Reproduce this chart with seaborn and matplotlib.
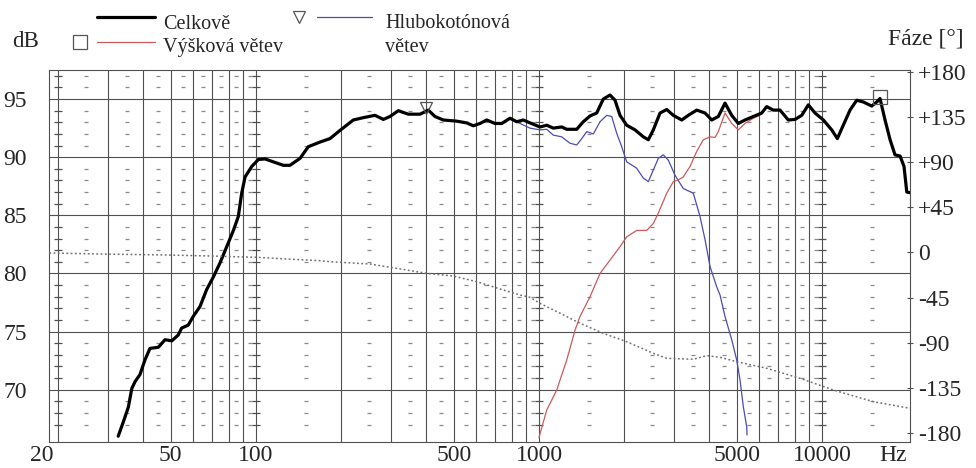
import matplotlib
matplotlib.use("Agg")
import matplotlib.pyplot as plt
from matplotlib.lines import Line2D
from matplotlib.ticker import NullLocator
import numpy as np
import pandas as pd
import seaborn as sns

# ---------------- data ----------------
black_freq = [32.6, 34.0, 35.4, 36.4, 37.4, 38.9, 40.5, 42.2, 45.2, 47.7,
              50.4, 53.1, 54.6, 57.6, 60.0, 63.4, 66.9, 70.7, 74.6, 78.8,
              83.2, 86.6, 89.0, 91.5, 96.6, 101.9, 107.6, 115.1, 124.9, 131.8,
              143.1, 153, 168.3, 182.6, 198, 220.7, 239.4, 263.3, 281.8, 297.5,
              318.3, 345.3, 379.8, 406.3, 429, 459, 511.9, 555.4, 586, 618.6,
              653.3, 699.1, 738.3, 789.8, 834.1, 880, 929.4, 1008, 1065, 1123,
              1203, 1253, 1359, 1434, 1515, 1599, 1687, 1782, 1856, 1933,
              2041, 2184, 2337, 2434, 2535, 2677, 2827, 2983, 3193, 3370,
              3608, 3861, 4076, 4301, 4542, 4797, 5061, 5345, 5718, 6122,
              6376, 6729, 7106, 7602, 8029, 8479, 8945, 9447, 10110, 10820,
              11330, 11890, 12560, 13260, 13990, 14980, 15610, 16030, 16700, 17400,
              18110, 18870, 19490, 19930, 20460]
black_db = [66.0, 67.25, 68.5, 70.1, 70.7, 71.3, 72.55, 73.55, 73.65, 74.3,
            74.2, 74.7, 75.3, 75.55, 76.3, 77.15, 78.6, 79.7, 80.9, 82.3,
            83.7, 84.9, 86.9, 88.3, 89.2, 89.8, 89.85, 89.6, 89.3, 89.3,
            89.9, 90.9, 91.3, 91.6, 92.3, 93.2, 93.4, 93.6, 93.25, 93.5,
            94.0, 93.7, 93.7, 94.05, 93.5, 93.2, 93.1, 92.95, 92.7, 92.9,
            93.2, 92.9, 92.9, 93.35, 93.05, 93.2, 92.95, 92.6, 92.75, 92.5,
            92.6, 92.4, 92.4, 93.05, 93.55, 93.8, 95.0, 95.35, 94.9, 93.6,
            92.75, 92.35, 91.75, 91.5, 92.35, 93.8, 94.1, 93.6, 93.2, 93.6,
            94.05, 93.8, 93.2, 93.5, 94.65, 93.6, 92.9, 93.2, 93.5, 93.8,
            94.35, 94.05, 94.05, 93.2, 93.25, 93.6, 94.5, 93.8, 93.2, 92.35,
            91.6, 92.75, 94.05, 94.9, 94.75, 94.4, 94.75, 95.05, 93.2, 91.5,
            90.2, 90.1, 89.2, 87.0, 86.95]

tweeter_freq = [1000, 1065, 1155, 1253, 1341, 1396, 1515, 1643, 1782, 1933,
                2041, 2214, 2402, 2535, 2640, 2827, 2983, 3106, 3235, 3417,
                3608, 3808, 4020, 4187, 4301, 4542, 4797, 5061, 5345, 5718,
                6038]
tweeter_db = [65.9, 68.25, 69.97, 72.55, 75.13, 76.3, 78.0, 80.0, 81.15, 82.3,
              83.15, 83.7, 83.7, 84.3, 85.2, 86.9, 87.9, 88.05, 88.3, 89.2,
              90.5, 91.5, 91.75, 91.7, 92.2, 93.8, 92.9, 92.35, 92.9, 93.35,
              93.6]

woofer_freq = [297.5, 318.3, 345.3, 379.8, 406.3, 429, 459, 511.9, 555.4, 586,
               618.6, 653.3, 699.1, 738.3, 789.8, 857, 929, 1008, 1065, 1123,
               1203, 1287, 1359, 1416, 1475, 1556, 1643, 1735, 1807, 1882,
               1960, 2041, 2214, 2337, 2434, 2535, 2640, 2749, 2863, 3024,
               3235, 3510, 3706, 3861, 4020, 4245, 4361, 4542, 4797, 4995,
               5131, 5271, 5419, 5433]
woofer_db = [93.5, 94.0, 93.7, 93.7, 94.05, 93.5, 93.2, 93.1, 92.95, 92.7,
             92.9, 93.2, 92.9, 92.9, 93.3, 92.9, 92.5, 92.35, 92.4, 91.9,
             91.75, 91.2, 91.05, 91.6, 92.2, 92.0, 93.05, 93.6, 93.5, 92.05,
             90.9, 89.6, 89.05, 88.2, 87.9, 88.9, 89.9, 90.2, 89.75, 88.45,
             87.3, 86.9, 84.9, 82.9, 80.6, 78.85, 78.15, 76.3, 74.3, 72.55,
             70.85, 68.55, 66.8, 66.1]

phase_freq = [18.6, 28.1, 48.4, 68.8, 100.6, 128.4, 168.3, 182.6, 252.8, 314.2,
              401, 498, 602.5, 748, 857, 929, 1008, 1187, 1396, 1687,
              2041, 2535, 2827, 3510, 3914, 4361, 4995, 6376, 8362, 10960,
              15180, 20460]
phase_deg = [-0.5, -1.5, -2.5, -3.5, -4.8, -6.5, -8.2, -9.2, -11.5, -15.8,
             -20.8, -23.5, -29.1, -37.4, -42.4, -44.7, -50.7, -60.6, -70.6, -80.6,
             -89.0, -100.5, -105.5, -106.5, -102.9, -104.5, -108.9, -115.5, -125.5, -137.1,
             -148.8, -155.4]

woofer_marker = ([400], [94.25])
tweeter_marker = ([16000], [95.15])

x_ticks = [50, 100, 500, 1000, 5000, 10000]
x_labels = ["50", "100", "500", "1000", "5000", "10000"]
db_ticks = [70, 75, 80, 85, 90, 95]
db_labels = ["70", "75", "80", "85", "90", "95"]
ph_ticks = [-180, -135, -90, -45, 0, 45, 90, 135, 180]
ph_labels = ["-180", "-135", "-90", "-45", "0", "+45", "+90", "+135", "+180"]

labels = {"total": "Celkově", "tweeter": "Výšková větev",
          "woofer": "Hlubokotónová\nvětev"}

# ---------------- style ----------------
sns.set_style("white")
plt.rcParams["font.family"] = ["Liberation Serif", "DejaVu Serif"]

W, H = 976, 468
fig = plt.figure(figsize=(W / 100, H / 100), dpi=100)
ax = fig.add_axes([49 / W, 1 - 442 / H, 861 / W, 372 / H])
ax.set_xscale("log")
ax.set_xlim(18.56, 20460)
ax.set_ylim(65.5, 97.5)

GRID = "#505050"
DASH = "#8a8a8a"

# grid: solid lines at 1..9 x decade
solid_x = [m * 10 ** e for e in (1, 2, 3) for m in range(1, 10) if m * 10 ** e >= 20] + [10000]
for f in solid_x:
    ax.axvline(f, color=GRID, lw=0.8, zorder=1)
for d in db_ticks:
    ax.axhline(d, color=GRID, lw=0.8, zorder=1)

minor_db = [d for d in range(67, 98) if d % 5]
half_x = [m * 10 ** e + 5 * 10 ** (e - 1) for e in (1, 2, 3) for m in range(1, 10) if m * 10 ** e >= 20] + [15000]
decade_x = [20, 100, 1000, 10000]
hx, hy = np.meshgrid(half_x, minor_db)
ax.plot(hx.ravel(), hy.ravel(), ls="none", marker="_", ms=3, mew=0.9, color=DASH, zorder=1)
dx, dy = np.meshgrid(decade_x, minor_db)
ax.plot(dx.ravel(), dy.ravel(), ls="none", marker="_", ms=6, mew=0.9, color=GRID, zorder=1)

for s in ax.spines.values():
    s.set_color(GRID)
    s.set_linewidth(0.8)

# curves
df_w = pd.DataFrame({"f": woofer_freq, "db": woofer_db})
df_t = pd.DataFrame({"f": tweeter_freq, "db": tweeter_db})
df_b = pd.DataFrame({"f": black_freq, "db": black_db})
sns.lineplot(data=df_w, x="f", y="db", ax=ax, color="#4b4bb4", lw=0.9, zorder=3)
sns.lineplot(data=df_t, x="f", y="db", ax=ax, color="#cc5a5a", lw=0.9, zorder=3)
sns.lineplot(data=df_b, x="f", y="db", ax=ax, color="black", lw=2.3, zorder=4)

ax.plot(*woofer_marker, ls="none", marker="v", ms=8, mfc="none", mec="#555555", mew=0.9, zorder=5)
ax.plot(*tweeter_marker, ls="none", marker="s", ms=10, mfc="none", mec="#555555", mew=0.9, zorder=5)

ax.set_xticks(x_ticks)
ax.set_xticklabels(x_labels)
ax.xaxis.set_minor_locator(NullLocator())
ax.tick_params(axis="x", length=0, pad=2, labelsize=17)
ax.set_yticks(db_ticks)
ax.set_yticklabels(db_labels)
ax.tick_params(axis="y", length=0, pad=16, labelsize=17)
ax.set_xlabel("")
ax.set_ylabel("")

# phase axis
ax2 = ax.twinx()
df_p = pd.DataFrame({"f": phase_freq, "ph": phase_deg})
sns.lineplot(data=df_p, x="f", y="ph", ax=ax2, color="#707070", lw=1.1,
             linestyle=(0, (1.2, 1.6)), zorder=3)
ax2.set_ylim(-189, 182)
ax2.set_yticks(ph_ticks)
ax2.set_yticklabels(ph_labels)
ax2.tick_params(axis="y", direction="inout", length=4.5, width=0.8, color=GRID,
                pad=3.5, labelsize=17)
ax2.set_ylabel("")
ax2.set_xlabel("")
for s in ax2.spines.values():
    s.set_visible(False)

# extra axis texts
fig.text(42 / W, 1 - 455.4 / H, "20", ha="center", va="center", fontsize=17)
fig.text(893 / W, 1 - 455.4 / H, "Hz", ha="center", va="center", fontsize=17)
fig.text(12 / W, 1 - 47 / H, "dB", ha="left", va="baseline", fontsize=16.5)
fig.text(888 / W, 1 - 44 / H, "Fáze [°]", ha="left", va="baseline", fontsize=17)

# legend
fig.add_artist(Line2D([97 / W, 155 / W], [1 - 16.7 / H] * 2, color="black", lw=2.3))
fig.add_artist(Line2D([97 / W, 155 / W], [1 - 41.7 / H] * 2, color="#cc5a5a", lw=0.9))
fig.add_artist(Line2D([317 / W, 372 / W], [1 - 16.7 / H] * 2, color="#4b4bb4", lw=0.9))
fig.add_artist(Line2D([79.5 / W], [1 - 42 / H], ls="none", marker="s", ms=10,
                      mfc="none", mec="#555555", mew=0.9))
fig.add_artist(Line2D([299 / W], [1 - 17 / H], ls="none", marker="v", ms=9,
                      mfc="none", mec="#555555", mew=0.9))
fig.text(163 / W, 1 - 29 / H, labels["total"], ha="left", va="baseline", fontsize=14.5)
fig.text(163 / W, 1 - 52 / H, labels["tweeter"], ha="left", va="baseline", fontsize=14.5)
fig.text(385 / W, 1 - 28 / H, labels["woofer"].split("\n")[0], ha="left", va="baseline", fontsize=14.5)
fig.text(385 / W, 1 - 52 / H, labels["woofer"].split("\n")[1], ha="left", va="baseline", fontsize=14.5)

fig.savefig("out.png", dpi=100)
